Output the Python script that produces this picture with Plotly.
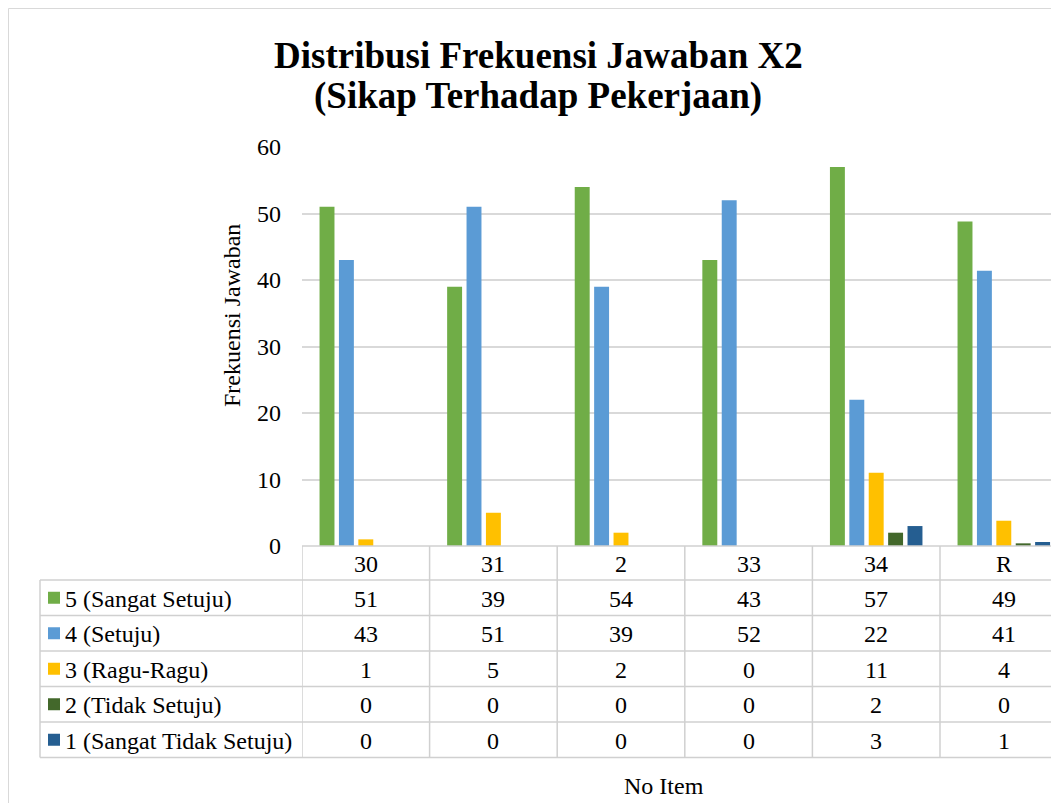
import plotly.graph_objects as go

categories = ["30", "31", "2", "33", "34", "R"]
series_names = ["5 (Sangat Setuju)", "4 (Setuju)", "3 (Ragu-Ragu)", "2 (Tidak Setuju)", "1 (Sangat Tidak Setuju)"]
s5 = [51, 39, 54, 43, 57, 48.8]
s4 = [43, 51, 39, 52, 22, 41.4]
s3 = [1, 5, 2, 0, 11, 3.8]
s2 = [0, 0, 0, 0, 2, 0.4]
s1 = [0, 0, 0, 0, 3, 0.6]
series_values = [s5, s4, s3, s2, s1]
colors = ["#70AD47", "#5B9BD5", "#FFC000", "#43682B", "#255E91"]

OFF = 8  # page body margin
W, H = 1059 - OFF, 803 - OFF
L, R_, T, B = 302, 1059, 147, 546  # plot area in page pixels
CATW = 127.6
FONT = "Liberation Serif, Times New Roman, serif"
GRID = "#d9d9d9"
TBL = "#d0d0d0"
FS = 24


def px(p):
    return (p - L) / (R_ - L)


def py(p):
    return (B - p) / (B - T)


xs = list(range(len(categories)))
fig = go.Figure()
for name, vals, c in zip(series_names, series_values, colors):
    fig.add_trace(go.Bar(x=xs, y=vals, name=name, marker=dict(color=c, line=dict(width=0)),
                         showlegend=False))

shapes = []
annotations = []

# outer chart border
shapes.append(dict(type="rect", xref="paper", yref="paper", x0=px(8.5), x1=px(1100), y0=py(8.5), y1=py(830),
                   line=dict(color=GRID, width=1), layer="below"))

# table geometry
row_lines = [580, 615.5, 651, 686.5, 722, 757.5]
tbl_left = 40
tbl_bottom = row_lines[-1]
shapes.append(dict(type="line", xref="paper", yref="paper", x0=px(L), x1=px(1100), y0=py(B), y1=py(B),
                   line=dict(color=TBL, width=1.5)))
for yl in row_lines:
    shapes.append(dict(type="line", xref="paper", yref="paper", x0=px(tbl_left), x1=px(1100), y0=py(yl), y1=py(yl),
                       line=dict(color=TBL, width=1.5)))
shapes.append(dict(type="line", xref="paper", yref="paper", x0=px(tbl_left), x1=px(tbl_left),
                   y0=py(row_lines[0]), y1=py(tbl_bottom), line=dict(color=TBL, width=1.5)))
for k in range(len(categories) + 1):
    shapes.append(dict(type="line", xref="x", yref="paper", x0=k - 0.5, x1=k - 0.5,
                       y0=py(B), y1=py(tbl_bottom), line=dict(color=TBL, width=1.5)))

# category labels
for i, c in enumerate(categories):
    annotations.append(dict(x=i, xref="x", y=py((B + row_lines[0]) / 2 + 1), yref="paper", text=c,
                            showarrow=False, font=dict(family=FONT, size=FS, color="#000"),
                            xanchor="center", yanchor="middle"))

# table rows
for r, (name, vals, c) in enumerate(zip(series_names, series_values, colors)):
    yc = (row_lines[r] + row_lines[r + 1]) / 2
    shapes.append(dict(type="rect", xref="paper", yref="paper", x0=px(48), x1=px(60),
                       y0=py(yc - 6), y1=py(yc + 6), fillcolor=c, line=dict(width=0)))
    annotations.append(dict(x=px(63), xref="paper", y=py(yc + 1), yref="paper", text=name, showarrow=False,
                            font=dict(family=FONT, size=FS, color="#000"), xanchor="left", yanchor="middle"))
    for i, v in enumerate(vals):
        annotations.append(dict(x=i, xref="x", y=py(yc + 1), yref="paper", text=f"{round(v):d}",
                                showarrow=False, font=dict(family=FONT, size=FS, color="#000"),
                                xanchor="center", yanchor="middle"))

# titles
annotations.append(dict(x=px(538), xref="paper", y=py(55), yref="paper",
                        text="<b>Distribusi Frekuensi Jawaban X2</b>", showarrow=False,
                        font=dict(family=FONT, size=37, color="#000"), xanchor="center", yanchor="middle"))
annotations.append(dict(x=px(538), xref="paper", y=py(96), yref="paper",
                        text="<b>(Sikap Terhadap Pekerjaan)</b>", showarrow=False,
                        font=dict(family=FONT, size=37, color="#000"), xanchor="center", yanchor="middle"))
annotations.append(dict(x=px(232), xref="paper", y=py(316), yref="paper", text="Frekuensi Jawaban",
                        textangle=-90, showarrow=False, font=dict(family=FONT, size=FS, color="#000"),
                        xanchor="center", yanchor="middle"))
annotations.append(dict(x=px(664), xref="paper", y=py(786), yref="paper", text="No Item",
                        showarrow=False, font=dict(family=FONT, size=FS, color="#000"),
                        xanchor="center", yanchor="middle"))

fig.update_layout(
    width=W, height=H,
    margin=dict(l=L - OFF, r=W - (R_ - OFF), t=T - OFF, b=H - (B - OFF), pad=0),
    paper_bgcolor="white", plot_bgcolor="white",
    barmode="group", bargap=0.24, bargroupgap=0.23,
    shapes=shapes, annotations=annotations,
    xaxis=dict(range=[-0.5, -0.5 + (R_ - L) / CATW], showticklabels=False, showgrid=False,
               zeroline=False, showline=False, fixedrange=True),
    yaxis=dict(range=[0, 60], dtick=10, showgrid=True, gridcolor=GRID, gridwidth=1.5,
               zeroline=False, showline=False, ticks="", ticklabelstandoff=20,
               tickfont=dict(family=FONT, size=FS, color="#000")),
    font=dict(family=FONT),
)

fig.write_html("out.html")
